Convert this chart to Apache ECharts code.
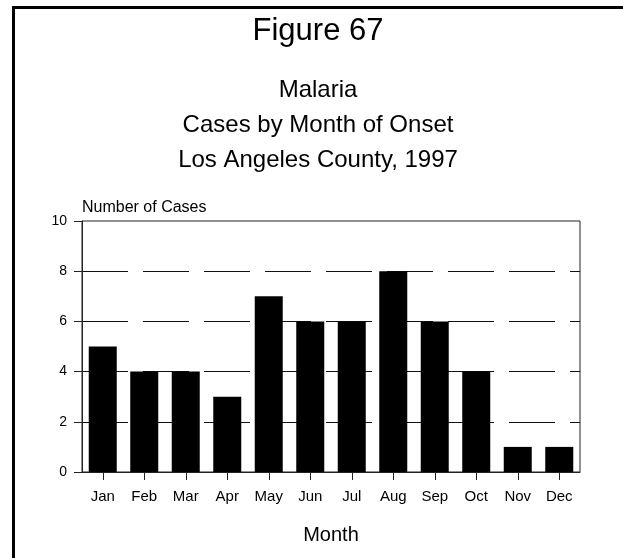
<!DOCTYPE html>
<html>
<head>
<meta charset="utf-8">
<script src="https://cdn.jsdelivr.net/npm/echarts@6/dist/echarts.min.js"></script>
<style>
  html, body { margin: 0; padding: 0; background: #fff; }
  #chart { width: 623px; height: 558px; }
</style>
</head>
<body>
<div id="chart"></div>
<script>
// data
const months = ['Jan', 'Feb', 'Mar', 'Apr', 'May', 'Jun', 'Jul', 'Aug', 'Sep', 'Oct', 'Nov', 'Dec']
const cases = [5, 4, 4, 3, 7, 6, 6, 8, 6, 4, 1, 1]
const titleLines = ['Malaria', 'Cases by Month of Onset', 'Los Angeles County, 1997']

const font = '"Liberation Sans", Arial, sans-serif'
const chart = echarts.init(document.getElementById('chart'))

chart.setOption({
  animation: false,
  backgroundColor: '#fff',
  textStyle: { fontFamily: font, color: '#000' },
  grid: {
    left: 82,
    right: 43,
    top: 221,
    bottom: 86,
    show: true,
    borderColor: '#222',
    borderWidth: 1,
    containLabel: false
  },
  graphic: [
    {
      type: 'polyline',
      shape: { points: [[13.5, 560], [13.5, 7.5], [625, 7.5]] },
      style: { stroke: '#000', lineWidth: 3, fill: null }
    },
    {
      type: 'text', x: 318, y: 31,
      style: { text: 'Figure 67', font: '31px ' + font, fill: '#000', align: 'center', verticalAlign: 'middle' }
    },
    {
      type: 'text', x: 318, y: 90.5,
      style: { text: titleLines[0], font: '24px ' + font, fill: '#000', align: 'center', verticalAlign: 'middle' }
    },
    {
      type: 'text', x: 318, y: 125.5,
      style: { text: titleLines[1], font: '24px ' + font, fill: '#000', align: 'center', verticalAlign: 'middle' }
    },
    {
      type: 'text', x: 318, y: 160.5,
      style: { text: titleLines[2], font: '24px ' + font, fill: '#000', align: 'center', verticalAlign: 'middle' }
    }
  ],
  xAxis: {
    type: 'category',
    data: months,
    name: 'Month',
    nameLocation: 'middle',
    nameGap: 53,
    nameTextStyle: { fontSize: 20, color: '#000' },
    axisLine: { show: true, lineStyle: { color: '#222', width: 1 } },
    axisTick: { show: true, inside: false, alignWithLabel: true, length: 8, lineStyle: { color: '#222', width: 1 } },
    axisLabel: { fontSize: 15, color: '#000', margin: 17 },
    splitLine: { show: false }
  },
  yAxis: {
    type: 'value',
    min: 0,
    max: 10,
    interval: 2,
    name: 'Number of Cases',
    nameLocation: 'end',
    nameGap: 5,
    nameTextStyle: { fontSize: 16, color: '#000', align: 'left' },
    axisLine: { show: true, lineStyle: { color: '#222', width: 1 } },
    axisTick: { show: true, inside: false, length: 8, lineStyle: { color: '#222', width: 1 } },
    axisLabel: { fontSize: 14, color: '#000', margin: 15 },
    splitLine: {
      show: true,
      showMinLine: false,
      showMaxLine: false,
      lineStyle: { color: '#111', width: 1, type: [46, 15] }
    }
  },
  series: [{
    type: 'bar',
    data: cases,
    barWidth: 28,
    itemStyle: { color: '#000' }
  }]
})
</script>
</body>
</html>
